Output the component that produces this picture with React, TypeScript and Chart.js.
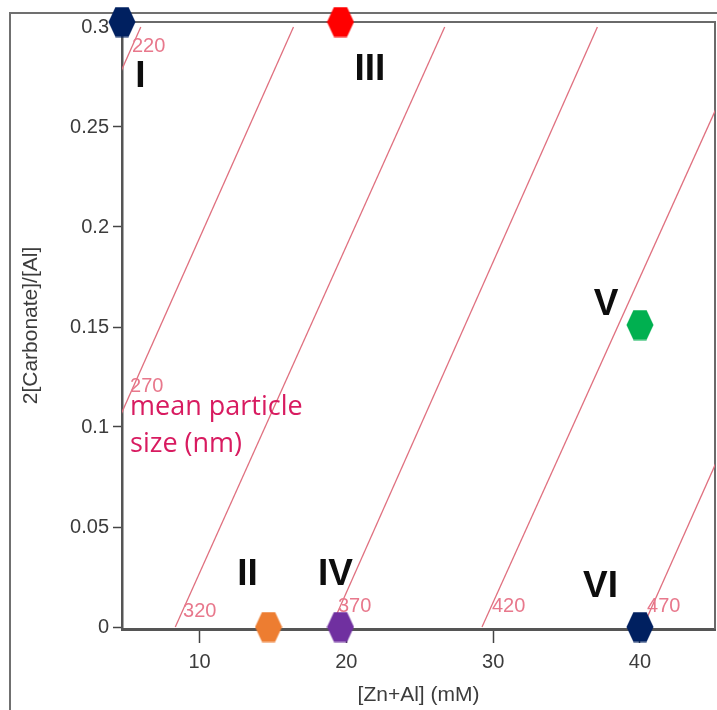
import React, { useEffect, useRef } from "react";
import { Chart, registerables } from "chart.js";

Chart.register(...registerables);

// ---- axes ----
const xTicks = [10, 20, 30, 40];
const yTicks = [0, 0.05, 0.1, 0.15, 0.2, 0.25, 0.3];
const xRange = [4.72, 45.11];
const yRange = [-0.001, 0.3025];
const xTitle = "[Zn+Al] (mM)";
const yTitle = "2[Carbonate]/[Al]";

// ---- samples (hexagon markers) ----
const markerNames = ["I", "II", "III", "IV", "V", "VI"];
const markerX = [4.72, 14.7, 19.6, 19.6, 40.0, 40.0];
const markerY = [0.3025, 0, 0.3025, 0, 0.151, 0];
const markerColors = ["#002060", "#ED7D31", "#FF0000", "#7030A0", "#00B050", "#002060"];
const markerLabelX = [5.98, 13.27, 21.61, 19.26, 37.69, 37.31];
const markerLabelY = [0.27, 0.021, 0.2735, 0.021, 0.156, 0.015];

// ---- mean particle size contours (nm) ----
const contourSizes = [220, 270, 320, 370, 420, 470];
const contourY = [0, 0.3];
const contourXAtY0 = [-12.2, -1.8, 8.35, 18.96, 29.24, 40.2];
const contourXAtY03 = [6.0, 16.4, 26.7, 37.1, 47.7, 58.4];
const contourLabelX = [5.4, 5.27, 8.88, 19.43, 29.92, 40.48];
const contourLabelY = [0.2875, 0.1175, 0.005, 0.0075, 0.0075, 0.0075];

const noteLines = ["mean particle", "size (nm)"];
const noteX = [5.27, 5.27];
const noteY = [0.106, 0.0875];

const FONT = "'Liberation Sans', Arial, sans-serif";
const CONTOUR_COLOR = "#E0707F";

function makeHex(color: string): HTMLCanvasElement {
  const c = document.createElement("canvas");
  c.width = 28;
  c.height = 31;
  const g = c.getContext("2d")!;
  g.fillStyle = color;
  g.beginPath();
  g.moveTo(0.5, 15.5);
  g.lineTo(7.5, 0.5);
  g.lineTo(20.5, 0.5);
  g.lineTo(27.5, 15.5);
  g.lineTo(20.5, 30.5);
  g.lineTo(7.5, 30.5);
  g.closePath();
  g.fill();
  return c;
}

const framePlugin = {
  id: "frames",
  beforeDraw(chart: any) {
    const ctx = chart.ctx;
    ctx.save();
    ctx.fillStyle = "#ffffff";
    ctx.fillRect(0, 0, chart.width, chart.height);
    ctx.strokeStyle = "#707070";
    ctx.lineWidth = 2;
    ctx.beginPath();
    ctx.moveTo(10, chart.height + 2);
    ctx.lineTo(10, 13);
    ctx.lineTo(chart.width + 2, 13);
    ctx.stroke();
    ctx.restore();
  },
  beforeDatasetsDraw(chart: any) {
    const { ctx, chartArea } = chart;
    ctx.save();
    ctx.strokeStyle = "#6a6a6a";
    ctx.lineWidth = 2;
    ctx.beginPath();
    ctx.moveTo(chartArea.left, chartArea.top);
    ctx.lineTo(chartArea.right, chartArea.top);
    ctx.lineTo(chartArea.right, chartArea.bottom);
    ctx.stroke();
    ctx.restore();
  },
  afterDatasetsDraw(chart: any) {
    const { ctx, scales } = chart;
    const xs = scales.x;
    const ys = scales.y;
    ctx.save();
    ctx.textBaseline = "alphabetic";
    // contour labels
    ctx.font = `20px ${FONT}`;
    ctx.fillStyle = "#E8788C";
    ctx.textAlign = "left";
    contourSizes.forEach((s, i) => {
      ctx.fillText(String(s), xs.getPixelForValue(contourLabelX[i]), ys.getPixelForValue(contourLabelY[i]));
    });
    // note
    ctx.font = `27px 'Open Sans', sans-serif`;
    ctx.fillStyle = "#D81B60";
    noteLines.forEach((t, i) => {
      ctx.fillText(t, xs.getPixelForValue(noteX[i]), ys.getPixelForValue(noteY[i]));
    });
    // roman numerals
    ctx.font = `bold 37px ${FONT}`;
    ctx.fillStyle = "#0d0d0d";
    ctx.textAlign = "center";
    markerNames.forEach((n, i) => {
      ctx.fillText(n, xs.getPixelForValue(markerLabelX[i]), ys.getPixelForValue(markerLabelY[i]));
    });
    ctx.restore();
  },
};

export default function App() {
  const ref = useRef<HTMLCanvasElement | null>(null);
  useEffect(() => {
    document.body.style.margin = "0";
    const canvas = ref.current!;
    const hexes = markerColors.map(makeHex);
    const datasets: any[] = [
      {
        label: "samples",
        data: markerX.map((x, i) => ({ x, y: markerY[i] })),
        pointStyle: hexes,
        pointRadius: 14,
        showLine: false,
        clip: false,
      },
      ...contourSizes.map((s, i) => ({
        label: `${s} nm`,
        type: "line",
        data: [
          { x: contourXAtY0[i], y: contourY[0] },
          { x: contourXAtY03[i], y: contourY[1] },
        ],
        borderColor: CONTOUR_COLOR,
        borderWidth: 1.3,
        pointRadius: 0,
        showLine: true,
        fill: false,
        tension: 0,
      })),
    ];
    const chart = new Chart(canvas, {
      type: "scatter",
      data: { datasets },
      options: {
        responsive: false,
        animation: false,
        events: [],
        devicePixelRatio: 1,
        layout: { autoPadding: false, padding: { top: 22, right: 2, left: 0, bottom: 0 } },
        plugins: { legend: { display: false }, tooltip: { enabled: false } },
        scales: {
          x: {
            type: "linear",
            position: "bottom",
            min: xRange[0],
            max: xRange[1],
            afterFit: (s: any) => {
              s.height = 81;
              s.paddingLeft = 0;
              s.paddingRight = 0;
            },
            afterBuildTicks: (s: any) => {
              s.ticks = xTicks.map((v) => ({ value: v }));
            },
            ticks: {
              font: { family: FONT, size: 20 },
              color: "#3c3c3c",
              padding: 7,
              maxRotation: 0,
              autoSkip: false,
              callback: (v: any) => String(v),
            },
            grid: {
              drawOnChartArea: false,
              drawTicks: true,
              tickLength: 14,
              tickColor: "#444444",
              tickWidth: 1.5,
            },
            border: { display: true, color: "#555555", width: 3 },
            title: {
              display: true,
              text: xTitle,
              font: { family: FONT, size: 21 },
              color: "#3c3c3c",
              padding: { top: 0, bottom: 2 },
            },
          },
          y: {
            type: "linear",
            position: "left",
            min: yRange[0],
            max: yRange[1],
            afterFit: (s: any) => {
              s.width = 122;
              s.paddingTop = 0;
              s.paddingBottom = 0;
            },
            afterBuildTicks: (s: any) => {
              s.ticks = yTicks.map((v) => ({ value: v }));
            },
            ticks: {
              font: { family: FONT, size: 20 },
              color: "#3c3c3c",
              padding: 4,
              autoSkip: false,
              callback: (v: any) => String(v),
            },
            grid: {
              drawOnChartArea: false,
              drawTicks: true,
              tickLength: 9,
              tickColor: "#444444",
              tickWidth: 1.5,
            },
            border: { display: true, color: "#555555", width: 2.5 },
            title: {
              display: true,
              text: yTitle,
              font: { family: FONT, size: 21 },
              color: "#3c3c3c",
              padding: { top: 19, bottom: 0 },
            },
          },
        },
      },
      plugins: [framePlugin],
    } as any);
    return () => chart.destroy();
  }, []);
  return (
    <div style={{ position: "absolute", left: 0, top: 0, width: 717, height: 710 }}>
      <canvas ref={ref} width={717} height={710} style={{ width: 717, height: 710, display: "block" }} />
    </div>
  );
}
